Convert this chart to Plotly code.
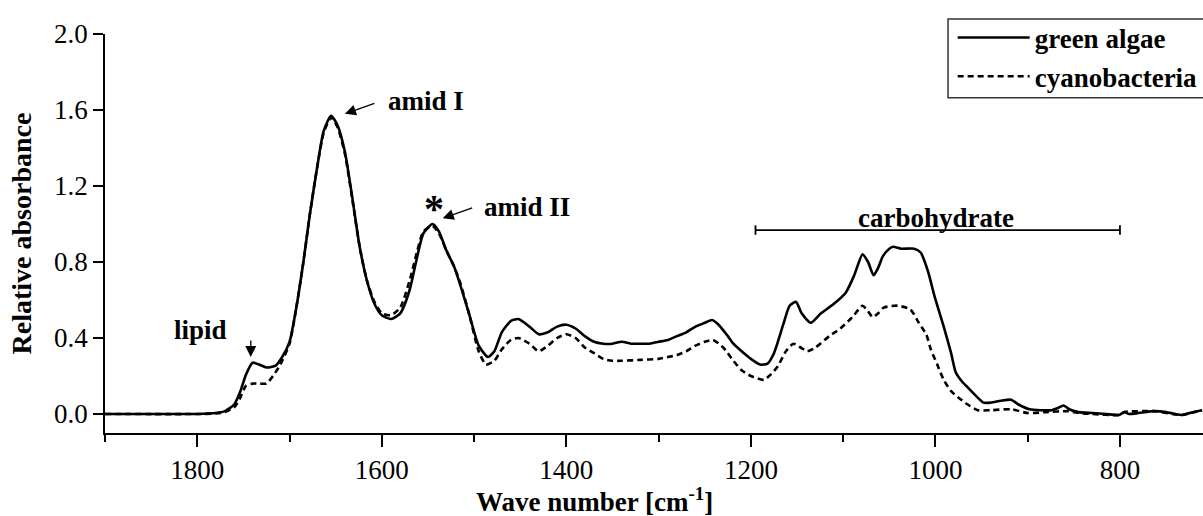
import plotly.graph_objects as go

# FTIR spectra: wave number (cm^-1) and relative absorbance
green_wn = [1900, 1850, 1800, 1780, 1770, 1760, 1754, 1747, 1740, 1733, 1725, 1715,
            1708, 1700, 1693, 1685, 1678, 1670, 1663, 1655, 1648, 1640, 1632, 1624,
            1616, 1608, 1600, 1590, 1580, 1570, 1562, 1555, 1545, 1538, 1530, 1522,
            1515, 1505, 1495, 1485, 1478, 1470, 1460, 1452, 1440, 1430, 1420, 1410,
            1400, 1390, 1380, 1370, 1360, 1350, 1340, 1330, 1320, 1310, 1300, 1290,
            1280, 1270, 1260, 1250, 1242, 1235, 1225, 1219, 1210, 1200, 1190, 1182,
            1175, 1165, 1158, 1151, 1145, 1135, 1124, 1110, 1097, 1088, 1079, 1073,
            1067, 1062, 1057, 1050, 1046, 1037, 1023, 1016, 1008, 1001, 991, 983,
            978, 971, 965, 955, 948, 940, 929, 918, 910, 898, 874, 868,
            861, 855, 845, 830, 815, 801, 795, 790, 780, 763, 750, 740,
            733, 720, 711]
green_abs = [0.0, 0.0, 0.0, 0.005, 0.015, 0.05, 0.11, 0.21, 0.27, 0.26, 0.245, 0.255,
             0.3, 0.38, 0.55, 0.8, 1.05, 1.3, 1.49, 1.57, 1.52, 1.38, 1.14, 0.88,
             0.7, 0.58, 0.52, 0.5, 0.53, 0.65, 0.82, 0.95, 1.0, 0.96, 0.86, 0.78,
             0.68, 0.52, 0.36, 0.3, 0.33, 0.43, 0.49, 0.5, 0.46, 0.42, 0.43, 0.46,
             0.47, 0.45, 0.41, 0.38, 0.37, 0.37, 0.38, 0.37, 0.37, 0.37, 0.38, 0.39,
             0.41, 0.43, 0.46, 0.48, 0.495, 0.47, 0.41, 0.37, 0.33, 0.29, 0.26, 0.265,
             0.32, 0.47, 0.57, 0.59, 0.53, 0.48, 0.53, 0.58, 0.64, 0.73, 0.84, 0.8,
             0.73, 0.77, 0.83, 0.87, 0.88, 0.87, 0.87, 0.85, 0.75, 0.62, 0.46, 0.32,
             0.22, 0.17, 0.14, 0.09, 0.06, 0.06, 0.07, 0.075, 0.05, 0.025, 0.02, 0.03,
             0.045, 0.025, 0.01, 0.005, 0.0, -0.005, 0.01, 0.0, 0.005, 0.015, 0.01, 0.0,
             -0.005, 0.01, 0.02]

cyano_wn = [1900, 1800, 1780, 1770, 1760, 1754, 1747, 1740, 1732, 1725, 1718, 1710,
            1700, 1693, 1685, 1678, 1670, 1663, 1655, 1648, 1640, 1632, 1624, 1616,
            1608, 1600, 1590, 1580, 1570, 1562, 1555, 1545, 1538, 1530, 1522, 1515,
            1505, 1495, 1487, 1478, 1470, 1460, 1452, 1440, 1430, 1420, 1410, 1400,
            1390, 1380, 1370, 1360, 1350, 1340, 1320, 1300, 1290, 1280, 1270, 1260,
            1250, 1241, 1230, 1219, 1210, 1200, 1186, 1178, 1171, 1162, 1154, 1146,
            1139, 1130, 1115, 1103, 1090, 1079, 1073, 1068, 1062, 1056, 1041, 1027,
            1018, 1010, 1005, 998, 991, 983, 976, 965, 954, 940, 918, 900,
            880, 856, 845, 830, 801, 795, 763, 733, 711]
cyano_abs = [0.0, 0.0, 0.003, 0.01, 0.035, 0.08, 0.15, 0.16, 0.16, 0.16, 0.2, 0.26,
             0.37, 0.55, 0.8, 1.05, 1.3, 1.48, 1.56, 1.51, 1.37, 1.13, 0.88, 0.7,
             0.59, 0.53, 0.52, 0.56, 0.7, 0.85, 0.96, 0.99, 0.95, 0.86, 0.78, 0.69,
             0.52, 0.33, 0.26, 0.28, 0.34, 0.39, 0.4, 0.37, 0.33, 0.36, 0.4, 0.42,
             0.4, 0.35, 0.32, 0.29, 0.28, 0.28, 0.285, 0.29, 0.3, 0.31, 0.33, 0.36,
             0.38, 0.39, 0.35, 0.28, 0.23, 0.2, 0.18, 0.21, 0.25, 0.33, 0.37, 0.35,
             0.33, 0.35, 0.41, 0.45, 0.51, 0.57, 0.54, 0.51, 0.53, 0.56, 0.57, 0.55,
             0.48, 0.42, 0.34, 0.26, 0.18, 0.12, 0.09, 0.05, 0.02, 0.02, 0.025, 0.005,
             0.01, 0.015, 0.005, 0.0, -0.005, 0.01, 0.015, -0.005, 0.02]

series_names = ["green algae", "cyanobacteria"]
y_ticks = [0.0, 0.4, 0.8, 1.2, 1.6, 2.0]
x_ticks = [1800, 1600, 1400, 1200, 1000, 800]

FONT = "Liberation Serif"

fig = go.Figure()
fig.add_trace(go.Scatter(x=green_wn, y=green_abs, mode="lines", name=series_names[0],
                         legend="legend", showlegend=True,
                         line=dict(color="black", width=2.6, shape="spline", smoothing=0.6)))
fig.add_trace(go.Scatter(x=cyano_wn, y=cyano_abs, mode="lines", name=series_names[1],
                         legend="legend2", showlegend=True,
                         line=dict(color="black", width=2.6, dash="6px,4px",
                                   shape="spline", smoothing=0.6)))

lbl = dict(family=FONT, size=27, color="black", weight="bold")
arrow_style = dict(text="", showarrow=True, arrowhead=2, arrowsize=1.7,
                   arrowwidth=1.3, arrowcolor="black")

# peak labels and pointers
fig.add_annotation(x=1797, y=0.44, text="lipid", showarrow=False, font=lbl)
fig.add_annotation(x=1742, y=0.30, ax=0, ay=-18, **arrow_style)
fig.add_annotation(x=1595, y=1.65, text="amid I", showarrow=False, font=lbl, xanchor="left")
fig.add_annotation(x=1640, y=1.58, ax=31, ay=-11, **arrow_style)
fig.add_annotation(x=1543, y=1.08, text="*", showarrow=False,
                   font=dict(family=FONT, size=40, color="black", weight="bold"))
fig.add_annotation(x=1491, y=1.09, text="amid II", showarrow=False, font=lbl, xanchor="left")
fig.add_annotation(x=1534, y=1.03, ax=31, ay=-11, **arrow_style)

# carbohydrate range bracket
br_lo, br_hi, br_y = 1195, 800, 0.968
fig.add_shape(type="line", x0=br_lo, x1=br_hi, y0=br_y, y1=br_y, line=dict(color="black", width=1.8))
for xb in (br_lo, br_hi):
    fig.add_shape(type="line", x0=xb, x1=xb, y0=br_y - 0.025, y1=br_y + 0.025,
                  line=dict(color="black", width=1.8))
fig.add_annotation(x=(br_lo + br_hi) / 2 + 2, y=br_y + 0.065, text="carbohydrate",
                   showarrow=False, font=lbl)

# x-axis title, set slightly left of the axis midpoint
fig.add_annotation(xref="paper", yref="paper", x=0.446, y=-0.168, yanchor="middle",
                   text="Wave number [cm<sup>-1</sup>]", showarrow=False,
                   font=dict(family=FONT, size=27, color="black", weight="bold"))

# legend frame (both legend rows share one box)
fig.add_shape(type="rect", xref="paper", yref="paper", x0=0.7678, x1=1.05, y0=0.84, y1=1.0376,
              line=dict(color="#333333", width=1.5), fillcolor="rgba(0,0,0,0)", layer="below")

axis_common = dict(showline=True, linecolor="black", linewidth=1.8, showgrid=False,
                   zeroline=False, ticks="outside", tickcolor="black", tickwidth=1.8,
                   tickfont=dict(family=FONT, size=27, color="black"))

fig.update_xaxes(range=[1900, 710], tickvals=x_ticks, ticklen=12,
                 minor=dict(dtick=100, tick0=1900, ticks="outside", ticklen=7,
                            tickwidth=1.8, tickcolor="black"),
                 **axis_common)
fig.update_yaxes(range=[-0.1, 2.0], tickvals=y_ticks, tickformat=".1f", ticklen=10,
                 title=dict(text="Relative absorbance", standoff=14,
                            font=dict(family=FONT, size=28, color="black", weight="bold")),
                 **axis_common)

leg_font = dict(family=FONT, size=27, color="black", weight="bold")
leg_common = dict(xanchor="left", yanchor="middle", bgcolor="rgba(0,0,0,0)",
                  borderwidth=0, font=leg_font, itemwidth=72)

fig.update_layout(
    width=1203, height=516,
    margin=dict(l=105, r=0, t=34, b=83),
    plot_bgcolor="white", paper_bgcolor="white",
    showlegend=True,
    legend=dict(x=0.772, y=0.990, **leg_common),
    legend2=dict(x=0.772, y=0.893, **leg_common),
)

fig.write_html("out.html")
